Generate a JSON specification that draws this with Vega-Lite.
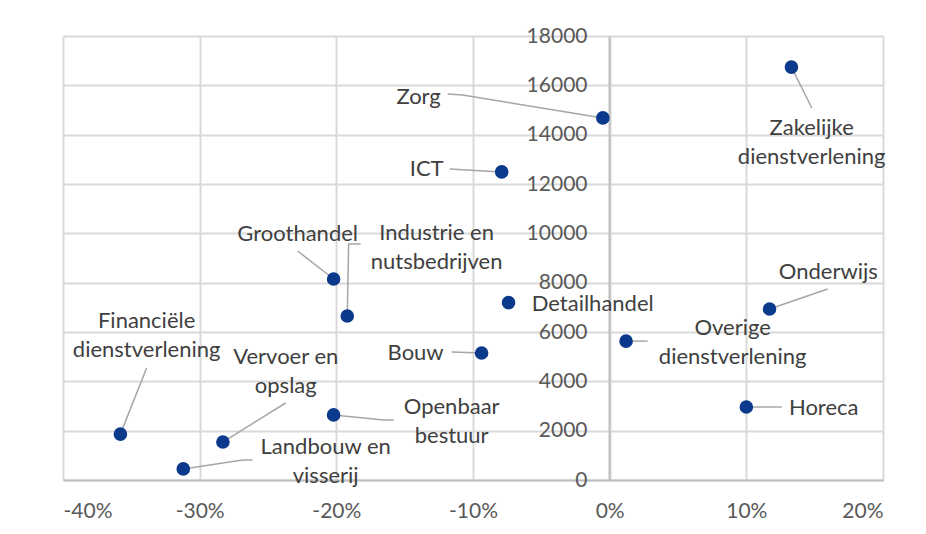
{
  "$schema": "https://vega.github.io/schema/vega-lite/v6.json",
  "width": 820,
  "height": 444,
  "autosize": {"type": "none"},
  "padding": {"left": 63, "top": 36, "right": 43, "bottom": 54},
  "background": "white",
  "config": {
    "view": {"stroke": null},
    "font": "Lato",
    "axis": {"labelFont": "Lato", "labelFontSize": 21, "labelColor": "#595959", "gridColor": "#d9d9d9", "gridWidth": 2, "domainColor": "#bfbfbf", "domainWidth": 2, "ticks": false, "title": null}
  },
  "datasets": {
    "points": [
      {"sector": "Zakelijke dienstverlening", "label": "Zakelijke\ndienstverlening", "groei": 0.133, "banen": 16740, "lx": 0.1478, "ly": 14270},
      {"sector": "Zorg", "label": "Zorg", "groei": -0.005, "banen": 14680, "lx": -0.1398, "ly": 15527},
      {"sector": "ICT", "label": "ICT", "groei": -0.079, "banen": 12490, "lx": -0.1339, "ly": 12608},
      {"sector": "Groothandel", "label": "Groothandel", "groei": -0.202, "banen": 8150, "lx": -0.2283, "ly": 9973},
      {"sector": "Industrie en nutsbedrijven", "label": "Industrie en\nnutsbedrijven", "groei": -0.192, "banen": 6650, "lx": -0.1266, "ly": 10013},
      {"sector": "Detailhandel", "label": "Detailhandel", "groei": -0.074, "banen": 7190, "lx": -0.0124, "ly": 7135},
      {"sector": "Bouw", "label": "Bouw", "groei": -0.0937, "banen": 5150, "lx": -0.142, "ly": 5149},
      {"sector": "Overige dienstverlening", "label": "Overige\ndienstverlening", "groei": 0.012, "banen": 5630, "lx": 0.090, "ly": 6162},
      {"sector": "Onderwijs", "label": "Onderwijs", "groei": 0.117, "banen": 6930, "lx": 0.160, "ly": 8432},
      {"sector": "Horeca", "label": "Horeca", "groei": 0.100, "banen": 2960, "lx": 0.1566, "ly": 2919},
      {"sector": "Financiële dienstverlening", "label": "Financiële\ndienstverlening", "groei": -0.358, "banen": 1860, "lx": -0.3388, "ly": 6446},
      {"sector": "Vervoer en opslag", "label": "Vervoer en\nopslag", "groei": -0.283, "banen": 1540, "lx": -0.237, "ly": 4986},
      {"sector": "Openbaar bestuur", "label": "Openbaar\nbestuur", "groei": -0.202, "banen": 2640, "lx": -0.1156, "ly": 2959},
      {"sector": "Landbouw en visserij", "label": "Landbouw en\nvisserij", "groei": -0.312, "banen": 450, "lx": -0.2078, "ly": 1338}
    ],
    "leaders": [
      {"sector": "Zakelijke dienstverlening", "seq": 1, "x": 0.133, "y": 16740},
      {"sector": "Zakelijke dienstverlening", "seq": 2, "x": 0.1479, "y": 15081},
      {"sector": "Zorg", "seq": 1, "x": -0.005, "y": 14680},
      {"sector": "Zorg", "seq": 2, "x": -0.1076, "y": 15608},
      {"sector": "Zorg", "seq": 3, "x": -0.1185, "y": 15649},
      {"sector": "ICT", "seq": 1, "x": -0.079, "y": 12490},
      {"sector": "ICT", "seq": 2, "x": -0.1171, "y": 12608},
      {"sector": "Groothandel", "seq": 1, "x": -0.202, "y": 8150},
      {"sector": "Groothandel", "seq": 2, "x": -0.2283, "y": 9284},
      {"sector": "Industrie en nutsbedrijven", "seq": 1, "x": -0.192, "y": 6650},
      {"sector": "Industrie en nutsbedrijven", "seq": 2, "x": -0.191, "y": 9568},
      {"sector": "Industrie en nutsbedrijven", "seq": 3, "x": -0.1822, "y": 9568},
      {"sector": "Bouw", "seq": 1, "x": -0.0937, "y": 5150},
      {"sector": "Bouw", "seq": 2, "x": -0.1156, "y": 5190},
      {"sector": "Overige dienstverlening", "seq": 1, "x": 0.012, "y": 5630},
      {"sector": "Overige dienstverlening", "seq": 2, "x": 0.0278, "y": 5630},
      {"sector": "Onderwijs", "seq": 1, "x": 0.117, "y": 6930},
      {"sector": "Onderwijs", "seq": 2, "x": 0.1595, "y": 7743},
      {"sector": "Horeca", "seq": 1, "x": 0.100, "y": 2960},
      {"sector": "Horeca", "seq": 2, "x": 0.1259, "y": 2960},
      {"sector": "Financiële dienstverlening", "seq": 1, "x": -0.358, "y": 1860},
      {"sector": "Financiële dienstverlening", "seq": 2, "x": -0.3388, "y": 4541},
      {"sector": "Vervoer en opslag", "seq": 1, "x": -0.283, "y": 1540},
      {"sector": "Vervoer en opslag", "seq": 2, "x": -0.2371, "y": 3122},
      {"sector": "Openbaar bestuur", "seq": 1, "x": -0.202, "y": 2640},
      {"sector": "Openbaar bestuur", "seq": 2, "x": -0.1654, "y": 2432},
      {"sector": "Openbaar bestuur", "seq": 3, "x": -0.158, "y": 2432},
      {"sector": "Landbouw en visserij", "seq": 1, "x": -0.312, "y": 450},
      {"sector": "Landbouw en visserij", "seq": 2, "x": -0.2685, "y": 811},
      {"sector": "Landbouw en visserij", "seq": 3, "x": -0.2612, "y": 811}
    ]
  },
  "layer": [
    {
      "data": {"name": "leaders"},
      "mark": {"type": "line", "color": "#a6a6a6", "strokeWidth": 1.5},
      "encoding": {
        "x": {"field": "x", "type": "quantitative", "scale": {"domain": [-0.4, 0.2], "nice": false, "zero": false},
          "axis": {"values": [-0.4, -0.3, -0.2, -0.1, 0, 0.1, 0.2], "labelExpr": "round(datum.value * 100) + '%'", "labelPadding": 20, "grid": true}},
        "y": {"field": "y", "type": "quantitative", "scale": {"domain": [0, 18000], "nice": false},
          "axis": {"values": [0, 2000, 4000, 6000, 8000, 10000, 12000, 14000, 16000, 18000], "format": "d", "offset": -546, "labelPadding": 22, "grid": true}},
        "detail": {"field": "sector"},
        "order": {"field": "seq", "type": "quantitative"}
      }
    },
    {
      "data": {"name": "points"},
      "mark": {"type": "circle", "size": 185, "color": "#0b3a8c", "opacity": 1},
      "encoding": {
        "x": {"field": "groei", "type": "quantitative"},
        "y": {"field": "banen", "type": "quantitative"}
      }
    },
    {
      "data": {"name": "points"},
      "mark": {"type": "text", "font": "Lato", "fontSize": 22, "color": "#404040", "align": "center", "baseline": "middle", "lineBreak": "\n", "lineHeight": 29},
      "encoding": {
        "x": {"field": "lx", "type": "quantitative"},
        "y": {"field": "ly", "type": "quantitative"},
        "text": {"field": "label"}
      }
    }
  ]
}
